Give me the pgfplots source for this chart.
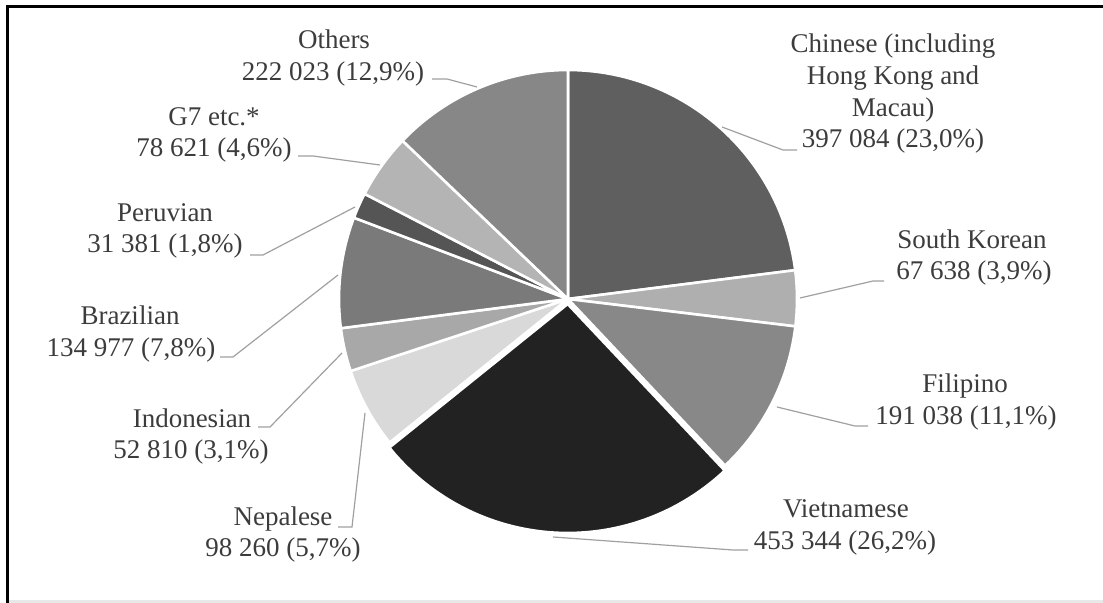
\documentclass[border=0pt]{standalone}
\usepackage{fontspec}
\setmainfont{Liberation Serif}
\usepackage{pgfplots}
\pgfplotsset{compat=1.18}
\definecolor{txt}{HTML}{3C3C3C}
\definecolor{lead}{HTML}{A0A0A0}
\definecolor{cChi}{HTML}{5F5F5F}
\definecolor{cKor}{HTML}{AFAFAF}
\definecolor{cFil}{HTML}{888888}
\definecolor{cVie}{HTML}{222222}
\definecolor{cNep}{HTML}{D9D9D9}
\definecolor{cInd}{HTML}{A8A8A8}
\definecolor{cBra}{HTML}{7A7A7A}
\definecolor{cPer}{HTML}{555555}
\definecolor{cGse}{HTML}{B4B4B4}
\definecolor{cOth}{HTML}{878787}
% values
\def\vChi{397084}\def\vKor{67638}\def\vFil{191038}\def\vVie{453344}\def\vNep{98260}
\def\vInd{52810}\def\vBra{134977}\def\vPer{31381}\def\vGse{78621}\def\vOth{222023}
\edef\Total{\fpeval{\vChi+\vKor+\vFil+\vVie+\vNep+\vInd+\vBra+\vPer+\vGse+\vOth}}
\edef\aA{90}
\edef\aB{\fpeval{\aA-360*\vChi/\Total}}
\edef\aC{\fpeval{\aB-360*\vKor/\Total}}
\edef\aD{\fpeval{\aC-360*\vFil/\Total}}
\edef\aE{\fpeval{\aD-360*\vVie/\Total}}
\edef\aF{\fpeval{\aE-360*\vNep/\Total}}
\edef\aG{\fpeval{\aF-360*\vInd/\Total}}
\edef\aH{\fpeval{\aG-360*\vBra/\Total}}
\edef\aI{\fpeval{\aH-360*\vPer/\Total}}
\edef\aJ{\fpeval{\aI-360*\vGse/\Total}}
\edef\aK{-270}
\newcommand{\slice}[5]{%
\addplot[draw=white, line width=1.3pt, line join=round, fill=#3, domain=#1:#2, samples=90, variable=\t]
  ({#4+229*cos(\t)},{#5-229*sin(\t)}) -- (axis cs:#4,#5) -- cycle;}
\newcommand{\lab}[3]{\node[anchor=base, inner sep=0pt, text=txt, font=\fontsize{13.5}{16}\selectfont] at (axis cs:#1,#2) {#3};}
\begin{document}
\begin{tikzpicture}
\begin{axis}[
  scale only axis, width=551.5pt, height=301.5pt,
  xmin=0, xmax=1103, ymin=0, ymax=603, y dir=reverse,
  hide axis, clip=false,
]
\coordinate (BBa) at (axis cs:0,603);
\coordinate (BBb) at (axis cs:1103,0);
% frame
\addplot[draw=none, fill=black!9] coordinates {(8,600) (1103,600) (1103,603) (8,603)} -- cycle;
\addplot[black, line width=1.5pt] coordinates {(7,603) (7,7) (1103,7)};
% slices
\slice{\aB}{\aA}{cChi}{568}{299}
\slice{\aC}{\aB}{cKor}{568}{299}
\slice{\aD}{\aC}{cFil}{568}{299}
\slice{\aE}{\aD}{cVie}{567.7}{304}
\slice{\aF}{\aE}{cNep}{568}{299}
\slice{\aG}{\aF}{cInd}{568}{299}
\slice{\aH}{\aG}{cBra}{568}{299}
\slice{\aI}{\aH}{cPer}{568}{299}
\slice{\aJ}{\aI}{cGse}{568}{299}
\slice{\aK}{\aJ}{cOth}{568}{299}
% leader lines
\addplot[lead, line width=0.6pt] coordinates {(722,127) (783,150) (797,150)};
\addplot[lead, line width=0.6pt] coordinates {(800,298) (873,281) (884,281)};
\addplot[lead, line width=0.6pt] coordinates {(777,407) (855,426) (868,426)};
\addplot[lead, line width=0.6pt] coordinates {(553,537) (733,550) (748,550)};
\addplot[lead, line width=0.6pt] coordinates {(365,413) (352,527) (338,527)};
\addplot[lead, line width=0.6pt] coordinates {(342,353) (270,427) (258,427)};
\addplot[lead, line width=0.6pt] coordinates {(338,275) (233,357) (220,357)};
\addplot[lead, line width=0.6pt] coordinates {(355,207) (263,255) (250,255)};
\addplot[lead, line width=0.6pt] coordinates {(380,165) (313,156) (298,156)};
\addplot[lead, line width=0.6pt] coordinates {(477,87) (447,79) (432,79)};
% labels
\lab{893}{53}{Chinese (including}
\lab{893}{85}{Hong Kong and}
\lab{893}{117}{Macau)}
\lab{893}{148}{397 084 (23,0\%)}
\lab{972}{249}{South Korean}
\lab{974}{280}{67 638 (3,9\%)}
\lab{965}{393}{Filipino}
\lab{966}{425}{191 038 (11,1\%)}
\lab{846}{518}{Vietnamese}
\lab{845}{550}{453 344 (26,2\%)}
\lab{283}{526}{Nepalese}
\lab{283}{557}{98 260 (5,7\%)}
\lab{192}{428}{Indonesian}
\lab{191}{459}{52 810 (3,1\%)}
\lab{130}{325}{Brazilian}
\lab{131}{357}{134 977 (7,8\%)}
\lab{165}{222}{Peruvian}
\lab{165}{253}{31 381 (1,8\%)}
\lab{214}{126}{G7 etc.*}
\lab{214}{157}{78 621 (4,6\%)}
\lab{334}{49}{Others}
\lab{333}{81}{222 023 (12,9\%)}
\end{axis}
\pgfresetboundingbox
\path (BBa) rectangle (BBb);
\end{tikzpicture}
\end{document}
